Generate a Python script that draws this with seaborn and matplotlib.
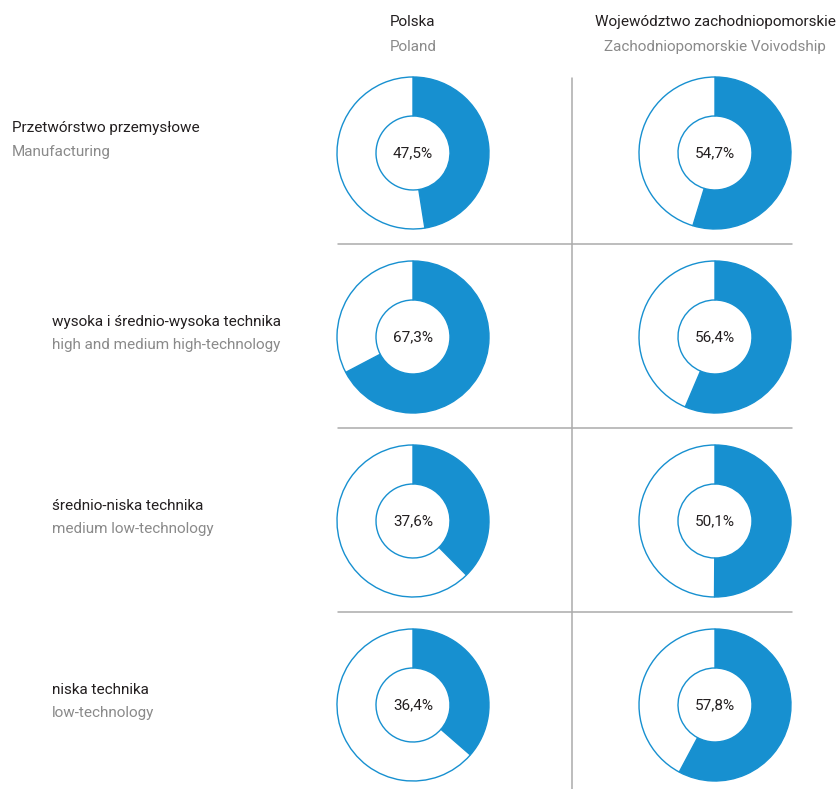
import matplotlib
matplotlib.use("Agg")
import matplotlib.pyplot as plt
import seaborn as sns

# data
rows_pl = ["Przetwórstwo przemysłowe", "wysoka i średnio-wysoka technika",
           "średnio-niska technika", "niska technika"]
rows_en = ["Manufacturing", "high and medium high-technology",
           "medium low-technology", "low-technology"]
poland = [47.5, 67.3, 37.6, 36.4]
region = [54.7, 56.4, 50.1, 57.8]
col_pl = ["Polska", "Województwo zachodniopomorskie"]
col_en = ["Poland", "Zachodniopomorskie Voivodship"]

sns.set_theme(style="white")
plt.rcParams['font.family'] = ['Roboto', 'DejaVu Sans']

blue = "#1790d0"
dark = "#231f20"
grey = "#8a8a8a"
line_col = "#ababab"
fs = 11

W, H = 837, 789
fig = plt.figure(figsize=(W / 100, H / 100), dpi=100)
ax = fig.add_axes([0, 0, 1, 1])

col_x = [413, 715]
row_y = [153, 337, 521, 705]
r_out, r_in = 76, 37


def Y(y):
    return H - y


# column headers
for cx, t1, t2 in zip(col_x, col_pl, col_en):
    ax.text(cx, Y(22), t1, ha="center", va="center", fontsize=fs, color=dark)
    ax.text(cx, Y(47), t2, ha="center", va="center", fontsize=fs, color=grey)

# row labels
label_x = [12, 52, 52, 52]
label_dy = [(-25, -1), (-15, 8), (-15, 8), (-15, 8)]
for i in range(4):
    ax.text(label_x[i], Y(row_y[i] + label_dy[i][0]), rows_pl[i], ha="left",
            va="center", fontsize=fs, color=dark)
    ax.text(label_x[i], Y(row_y[i] + label_dy[i][1]), rows_en[i], ha="left",
            va="center", fontsize=fs, color=grey)

# donuts
for cx, vals in zip(col_x, [poland, region]):
    for cy, v in zip(row_y, vals):
        ax.pie([v, 100 - v], colors=[blue, "white"], startangle=90,
               counterclock=False, center=(cx, Y(cy)), radius=r_out,
               wedgeprops=dict(width=r_out - r_in, edgecolor=blue,
                               linewidth=1.0))
        ax.text(cx, Y(cy), f"{v:.1f}%".replace(".", ","), ha="center",
                va="center", fontsize=fs, color=dark)

# grid lines
for y in [244, 428, 612]:
    ax.plot([338, 792], [Y(y), Y(y)], color=line_col, lw=1.1)
ax.plot([572, 572], [Y(78), Y(789)], color=line_col, lw=1.1)

ax.set_xlim(0, W)
ax.set_ylim(0, H)
ax.set_aspect("auto")
ax.axis("off")

fig.savefig("out.png", dpi=100)
